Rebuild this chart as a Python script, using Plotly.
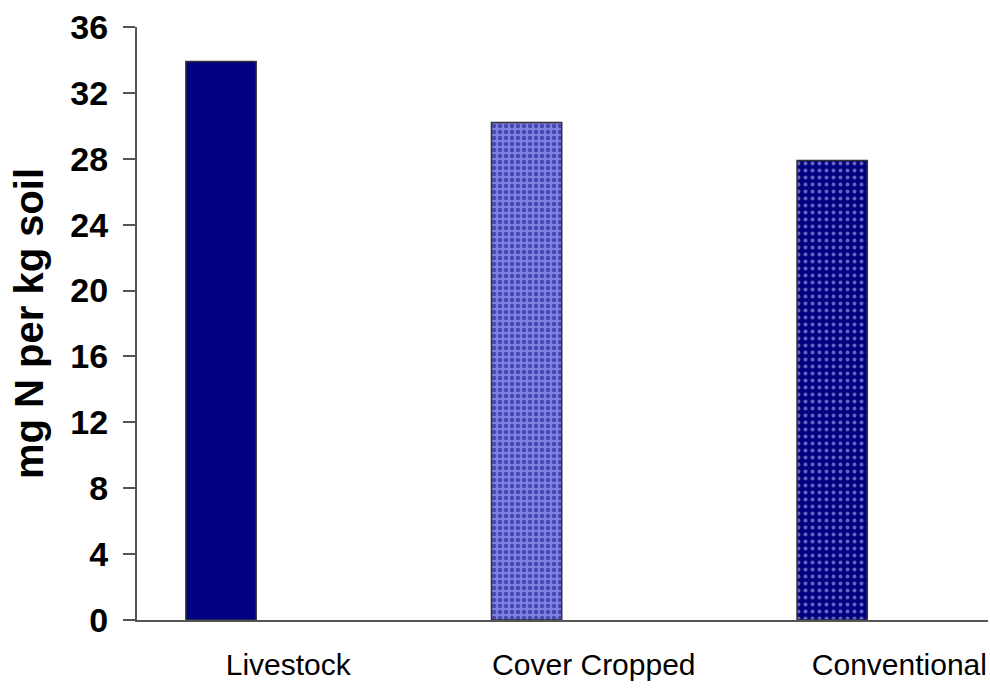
import plotly.graph_objects as go

# Soil nitrogen by farming system
categories = ["Livestock", "Cover Cropped", "Conventional"]
values = [33.9, 30.2, 27.9]
y_ticks = [0, 4, 8, 12, 16, 20, 24, 28, 32, 36]

# fill style per bar: (base colour, dot colour, dot shape, dot size, solidity)
bar_styles = [
    ("#000080", "#000080", "", 6, 0.3),
    ("#8282e2", "#10108a", ".", 6, 0.45),
    ("#000080", "#c8c8ff", ".", 7, 0.25),
]

positions = list(range(len(categories)))

fig = go.Figure()
for pos, val, (base, dots, shape, size, solid) in zip(positions, values, bar_styles):
    fig.add_trace(go.Bar(
        x=[pos],
        y=[val],
        width=0.23,
        offset=-0.335,
        marker=dict(
            color=base,
            line=dict(color="#333333", width=1.5),
            pattern=dict(
                shape=shape,
                fgcolor=dots,
                size=size,
                solidity=solid,
                fillmode="overlay",
            ),
        ),
        showlegend=False,
        hoverinfo="skip",
    ))

fig.update_layout(
    width=990,
    height=690,
    margin=dict(l=137, r=2, t=27, b=70),
    paper_bgcolor="white",
    plot_bgcolor="white",
    font=dict(family="Liberation Sans, Arial, sans-serif", color="black"),
    barmode="overlay",
)

fig.update_xaxes(
    range=[-0.495, 2.29],
    tickvals=positions,
    ticktext=categories,
    tickfont=dict(size=30, family="Liberation Sans, Arial, sans-serif"),
    ticks="outside",
    ticklen=17,
    tickcolor="rgba(0,0,0,0)",
    showline=True,
    linecolor="#555555",
    linewidth=2,
    showgrid=False,
    zeroline=False,
    fixedrange=True,
)

fig.update_yaxes(
    range=[0, 36],
    tickvals=y_ticks,
    ticktext=[str(v) for v in y_ticks],
    tickfont=dict(size=34, family="Liberation Sans, Arial, sans-serif", weight="bold"),
    ticks="outside",
    ticklen=12,
    tickwidth=2,
    tickcolor="#555555",
    ticklabelstandoff=8,
    showline=True,
    linecolor="#555555",
    linewidth=2,
    showgrid=False,
    zeroline=False,
    title=dict(
        text="mg N per kg soil",
        font=dict(size=40, family="Liberation Sans, Arial, sans-serif", weight="bold"),
        standoff=14,
    ),
    fixedrange=True,
)

fig.write_html("out.html")
